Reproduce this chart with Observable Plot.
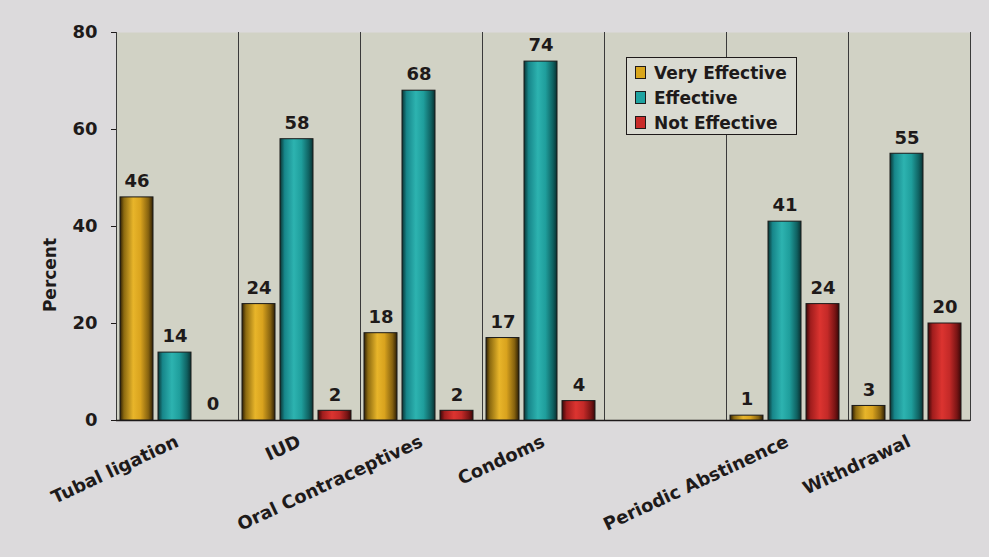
<!DOCTYPE html>
<html><head><meta charset="utf-8">
<script src="https://cdn.jsdelivr.net/npm/d3@7"></script>
<script src="https://cdn.jsdelivr.net/npm/@observablehq/plot@0.6"></script>
<style>
body{margin:0;background:#dcdadc;font-family:"DejaVu Sans",Verdana,sans-serif;}
#wrap{position:relative;width:989px;height:557px;overflow:hidden;}
#wrap svg{position:absolute;left:0;top:0;}
.ylab{position:absolute;left:50px;top:275px;transform:translate(-50%,-50%) rotate(-90deg);font-weight:bold;font-size:17px;color:#1e1a1a;white-space:nowrap;}
.legend{position:absolute;left:626px;top:57px;width:171px;height:78px;border:1.5px solid #1e1a1a;background:#d9dad1;box-sizing:border-box;padding:2px 0 0 8px;}
.legend .item{display:flex;align-items:center;height:25px;font-weight:bold;font-size:17px;color:#1e1a1a;white-space:nowrap;}
.legend .sw{width:9px;height:11px;border:1px solid #1e1a1a;margin-right:8px;flex:none;}
</style></head>
<body><div id="wrap"></div>
<script>
const categories = ["Tubal ligation","IUD","Oral Contraceptives","Condoms","","Periodic Abstinence","Withdrawal"];
const series = ["Very Effective","Effective","Not Effective"];
const veryEffective = [46,24,18,17,null,1,3];
const effective = [14,58,68,74,null,41,55];
const notEffective = [0,2,2,4,null,24,20];
const yTicks = [0,20,40,60,80];
const seriesColors = ["#d9a61c","#1fa3a1","#c92b29"];

const rows = [];
categories.forEach((c,i)=>{
  [veryEffective,effective,notEffective].forEach((arr,j)=>{
    rows.push({category:c, series:series[j], value:arr[i]});
  });
});
const labeled = rows.filter(d=>d.value!=null);

const chart = Plot.plot({
  width:989, height:557,
  marginTop:32, marginLeft:113, marginRight:17, marginBottom:137,
  style:{background:"transparent", fontFamily:"DejaVu Sans", fontWeight:"bold", fontSize:"17px", color:"#1e1a1a", overflow:"visible"},
  fx:{domain:categories, padding:0},
  x:{domain:series, paddingInner:0.13, paddingOuter:0.138, align:0.3, axis:null},
  y:{domain:[0,80]},
  color:{domain:series, range:["url(#gradGold)","url(#gradTeal)","url(#gradRed)"]},
  marks:[
    Plot.frame({fill:"#d1d2c5", stroke:"none"}),
    Plot.frame({anchor:"left", stroke:"#3a3a3a", strokeWidth:1}),
    Plot.frame({anchor:"right", stroke:"#3a3a3a", strokeWidth:1}),
    Plot.ruleY([0], {stroke:"#1e1a1a", strokeWidth:1.5}),
    Plot.axisY({ticks:yTicks, tickSize:5, tickPadding:14, fontSize:18, label:null}),
    Plot.axisFx({anchor:"bottom", tickRotate:-25, tickSize:0, tickPadding:20, fontSize:18, label:null}),
    Plot.barY(rows, {fx:"category", x:"series", y1:0, y2:"value", fill:"series", stroke:"#1a1a1a", strokeWidth:1}),
    Plot.text(labeled, {fx:"category", x:"series", y:"value", text:d=>String(d.value), dy:-16, fontSize:18, fill:"#1e1a1a"})
  ]
});

const ns = "http://www.w3.org/2000/svg";
const defs = document.createElementNS(ns,"defs");
const grads = {
  gradGold:[["0%","#2e1f04"],["12%","#8c6a10"],["40%","#e8b52a"],["62%","#d9a31e"],["86%","#86620f"],["100%","#2e1f04"]],
  gradTeal:[["0%","#0a3434"],["14%","#17868a"],["42%","#2db3b0"],["65%","#1f9e9c"],["88%","#0f6060"],["100%","#0a3030"]],
  gradRed:[["0%","#3a0808"],["14%","#a11d1d"],["42%","#dc3430"],["65%","#c42a28"],["88%","#781414"],["100%","#3a0808"]]
};
for (const [id,stops] of Object.entries(grads)) {
  const g = document.createElementNS(ns,"linearGradient");
  g.setAttribute("id",id); g.setAttribute("x1","0"); g.setAttribute("x2","1"); g.setAttribute("y1","0"); g.setAttribute("y2","0");
  for (const [o,c] of stops) {
    const s = document.createElementNS(ns,"stop");
    s.setAttribute("offset",o); s.setAttribute("stop-color",c); g.appendChild(s);
  }
  defs.appendChild(g);
}
chart.insertBefore(defs, chart.firstChild);

const wrap = document.getElementById("wrap");
wrap.appendChild(chart);

const yl = document.createElement("div");
yl.className = "ylab"; yl.textContent = "Percent";
wrap.appendChild(yl);

const leg = document.createElement("div");
leg.className = "legend";
series.forEach((s,i)=>{
  const it = document.createElement("div"); it.className = "item";
  const sw = document.createElement("span"); sw.className = "sw"; sw.style.background = seriesColors[i];
  const tx = document.createElement("span"); tx.textContent = s;
  it.appendChild(sw); it.appendChild(tx); leg.appendChild(it);
});
wrap.appendChild(leg);
</script>
</body></html>
